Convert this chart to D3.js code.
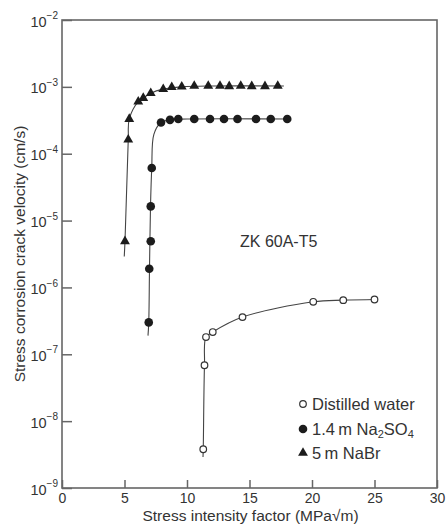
<!DOCTYPE html>
<html><head><meta charset="utf-8">
<script src="https://cdn.jsdelivr.net/npm/d3@7"></script>
<style>
html,body{margin:0;padding:0;background:#fff;}
text{font-family:"Liberation Sans",Arial,Helvetica,sans-serif;fill:#333;}
</style></head>
<body><svg id="c" width="446" height="525"></svg>
<script>
// ---- data ----
const xTicks = [0, 5, 10, 15, 20, 25, 30];
const yTickExps = [-9, -8, -7, -6, -5, -4, -3, -2];

const kWater = [11.30, 11.40, 11.52, 12.06, 14.44, 20.1, 22.5, 25.0];
const vWater = [3.8e-9, 6.85e-8, 1.81e-7, 2.15e-7, 3.6e-7, 6.1e-7, 6.45e-7, 6.6e-7];

const kNa2SO4 = [6.94, 6.98, 7.10, 7.10, 7.18, 7.92, 8.64, 9.30, 10.58, 11.84, 12.96, 14.04, 15.52, 16.70, 18.02];
const vNa2SO4 = [3.0e-7, 1.9e-6, 4.9e-6, 1.63e-5, 6.1e-5, 2.93e-4, 3.21e-4, 3.3e-4, 3.3e-4, 3.3e-4, 3.3e-4, 3.3e-4, 3.3e-4, 3.3e-4, 3.3e-4];

const kNaBr = [5.04, 5.30, 5.38, 6.10, 6.50, 7.10, 8.10, 8.78, 9.58, 10.58, 11.70, 12.64, 13.38, 14.30, 15.18, 16.24, 17.26];
const vNaBr = [4.9e-6, 1.62e-4, 3.3e-4, 6.0e-4, 6.8e-4, 8.05e-4, 9.25e-4, 9.9e-4, 1.01e-3, 1.035e-3, 1.035e-3, 1.035e-3, 1.02e-3, 1.035e-3, 1.02e-3, 1.02e-3, 1.035e-3];

// fitted curves drawn in the picture
const fitWater = [[11.28, 2.9e-9], [11.30, 3.8e-9], [11.40, 6.85e-8], [11.52, 1.81e-7], [12.06, 2.15e-7], [14.44, 3.6e-7], [20.1, 6.1e-7], [22.5, 6.45e-7], [25.2, 6.6e-7]];
const fitNa2SO4 = [[6.88, 1.9e-7], [6.94, 3.0e-7], [7.0, 1.9e-6], [7.08, 1.6e-5], [7.18, 6.1e-5], [7.35, 1.95e-4], [7.92, 2.93e-4], [8.64, 3.21e-4], [10.0, 3.3e-4], [18.2, 3.3e-4]];
const fitNaBr = [[4.98, 2.9e-6], [5.04, 4.9e-6], [5.30, 1.62e-4], [5.38, 3.3e-4], [6.10, 6.0e-4], [6.50, 6.8e-4], [7.10, 8.05e-4], [8.10, 9.25e-4], [9.58, 1.0e-3], [12.0, 1.03e-3], [17.75, 1.03e-3]];

// ---- chart ----
const svg = d3.select("#c");
const L = 62, R = 437, T = 20, B = 488;
const x = d3.scaleLinear().domain([0, 30]).range([L, R]);
const y = d3.scaleLog().domain([1e-9, 1e-2]).range([B, T]);
const axisColor = "#666";

// x axis (ticks inward)
const gx = svg.append("g").attr("transform", `translate(0,${B})`)
  .call(d3.axisBottom(x).tickValues(xTicks).tickSizeInner(-8).tickSizeOuter(0).tickPadding(5).tickFormat(d3.format("d")));
gx.select(".domain").remove();
gx.selectAll(".tick line").attr("stroke", axisColor).attr("stroke-width", 1.5);
gx.selectAll(".tick text").attr("font-size", 14).attr("fill", "#333")
  .attr("font-family", "Liberation Sans, Arial, sans-serif");

// y axis (ticks inward)
const gy = svg.append("g").attr("transform", `translate(${L},0)`)
  .call(d3.axisLeft(y).tickValues(yTickExps.map(e => Math.pow(10, e))).tickSizeInner(-10).tickSizeOuter(0).tickPadding(4).tickFormat(""));
gy.select(".domain").remove();
gy.selectAll(".tick line").attr("stroke", axisColor).attr("stroke-width", 1.5);
gy.selectAll(".tick text").remove();
gy.selectAll(".tick").each(function (d) {
  const e = Math.round(Math.log10(d));
  const t = d3.select(this).append("text")
    .attr("x", -4).attr("y", 0).attr("dy", "0.42em")
    .attr("text-anchor", "end").attr("font-size", 14.5).attr("fill", "#333");
  t.append("tspan").text("10");
  t.append("tspan").attr("font-size", 10).attr("dy", "-0.75em").text("\u2212" + Math.abs(e));
});

// frame
svg.append("rect").attr("x", L).attr("y", T).attr("width", R - L).attr("height", B - T)
  .attr("fill", "none").attr("stroke", axisColor).attr("stroke-width", 1.6);

// curves
const line = d3.line().x(d => x(d[0])).y(d => y(d[1])).curve(d3.curveCatmullRom.alpha(0.5));
[fitWater, fitNa2SO4, fitNaBr].forEach(f => {
  svg.append("path").attr("d", line(f)).attr("fill", "none").attr("stroke", "#444").attr("stroke-width", 1.1);
});

// markers
const ink = "#1c1c1c";
svg.append("g").selectAll("circle").data(d3.zip(kWater, vWater)).join("circle")
  .attr("cx", d => x(d[0])).attr("cy", d => y(d[1])).attr("r", 3.3)
  .attr("fill", "#fff").attr("stroke", "#333").attr("stroke-width", 1.2);
svg.append("g").selectAll("circle").data(d3.zip(kNa2SO4, vNa2SO4)).join("circle")
  .attr("cx", d => x(d[0])).attr("cy", d => y(d[1])).attr("r", 4.3).attr("fill", ink);
const tri = d3.symbol().type(d3.symbolTriangle).size(42);
svg.append("g").selectAll("path").data(d3.zip(kNaBr, vNaBr)).join("path")
  .attr("d", tri).attr("transform", d => `translate(${x(d[0])},${y(d[1])})`).attr("fill", ink);

// annotation
svg.append("text").attr("x", 240).attr("y", 246.5).attr("font-size", 16).text("ZK 60A-T5");

// legend
const lx = 303, lt = 312;
svg.append("circle").attr("cx", lx).attr("cy", 404).attr("r", 3.3).attr("fill", "#fff").attr("stroke", "#333").attr("stroke-width", 1.2);
svg.append("text").attr("x", lt).attr("y", 409.5).attr("font-size", 16.5).text("Distilled water");
svg.append("circle").attr("cx", lx).attr("cy", 429).attr("r", 4.3).attr("fill", ink);
const t2 = svg.append("text").attr("x", lt).attr("y", 434.5).attr("font-size", 16.5);
t2.append("tspan").text("1.4\u2009m Na");
t2.append("tspan").attr("font-size", 11).attr("dy", 3).text("2");
t2.append("tspan").attr("dy", -3).text("SO");
t2.append("tspan").attr("font-size", 11).attr("dy", 3).text("4");
svg.append("path").attr("d", tri).attr("transform", `translate(${lx},453)`).attr("fill", ink);
svg.append("text").attr("x", lt).attr("y", 458.5).attr("font-size", 16.5).text("5\u2009m NaBr");

// axis titles
svg.append("text").attr("x", (L + R) / 2 + 1).attr("y", 521).attr("text-anchor", "middle").attr("font-size", 15.5)
  .text("Stress intensity factor (MPa\u221Am)");
svg.append("text").attr("transform", `translate(25,${(T + B) / 2}) rotate(-90)`).attr("text-anchor", "middle").attr("font-size", 15.5)
  .text("Stress corrosion crack velocity (cm/s)");
</script></body></html>
